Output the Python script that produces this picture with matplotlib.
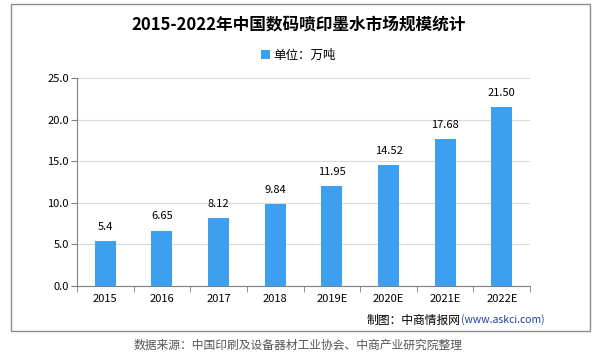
import matplotlib.pyplot as plt
from matplotlib.patches import Rectangle

plt.rcParams['font.family'] = ['Noto Sans CJK SC', 'DejaVu Sans']

years = ['2015', '2016', '2017', '2018', '2019E', '2020E', '2021E', '2022E']
values = [5.4, 6.65, 8.12, 9.84, 11.95, 14.52, 17.68, 21.50]
labels = ['5.4', '6.65', '8.12', '9.84', '11.95', '14.52', '17.68', '21.50']


def main():
    fig = plt.figure(figsize=(5.97, 3.56), dpi=100)
    fig.patch.set_facecolor('white')

    # outer frame
    fig.patches.append(Rectangle((0.018, 0.070), 0.970, 0.918, transform=fig.transFigure,
                                 fill=False, edgecolor='#8c8c8c', linewidth=1.0))

    ax = fig.add_axes([0.129, 0.197, 0.759, 0.584])
    x = range(len(years))
    bars = ax.bar(x, values, width=0.37, color='#3d9ff0', label='单位：万吨', zorder=3)

    for xi, v, t in zip(x, values, labels):
        ax.text(xi, v + 1.7, t, ha='center', va='center', fontsize=8)

    ax.set_ylim(0, 25)
    ax.set_xlim(-0.5, len(years) - 0.5)
    ax.set_yticks([0, 5, 10, 15, 20, 25])
    ax.set_yticklabels(['%.1f' % v for v in [0, 5, 10, 15, 20, 25]], fontsize=8)
    ax.set_xticks(list(x))
    ax.set_xticklabels(years, fontsize=8)
    ax.tick_params(axis='x', length=0, pad=6)
    ax.set_xticks([i - 0.5 for i in range(len(years) + 1)], minor=True)
    ax.tick_params(axis='x', which='minor', length=4, color='#808080')
    ax.tick_params(axis='y', length=4, color='#808080', pad=2)
    ax.grid(axis='y', color='#d9d9d9', linewidth=0.8, zorder=0)
    for s in ['top', 'right']:
        ax.spines[s].set_visible(False)
    ax.spines['left'].set_color('#808080')
    ax.spines['bottom'].set_color('#808080')

    fig.text(0.5, 0.932, '2015-2022年中国数码喷印墨水市场规模统计', ha='center', va='center',
             fontsize=12, fontweight='bold')
    fig.legend(handles=[bars], loc='center', bbox_to_anchor=(0.5, 0.844), frameon=False,
               fontsize=9, handlelength=0.7, handleheight=0.7, handletextpad=0.3)

    # credit line
    fig.text(0.772, 0.101, '制图：中商情报网', ha='right', va='center', fontsize=8.5, color='black')
    fig.text(0.772, 0.101, '(www.askci.com)', ha='left', va='center', fontsize=7.5, color='#1f3f9f')

    fig.text(0.5, 0.030, '数据来源：中国印刷及设备器材工业协会、中商产业研究院整理', ha='center', va='center',
             fontsize=8.5, color='#555555')

    plt.savefig('out.png', dpi=100)


main()
